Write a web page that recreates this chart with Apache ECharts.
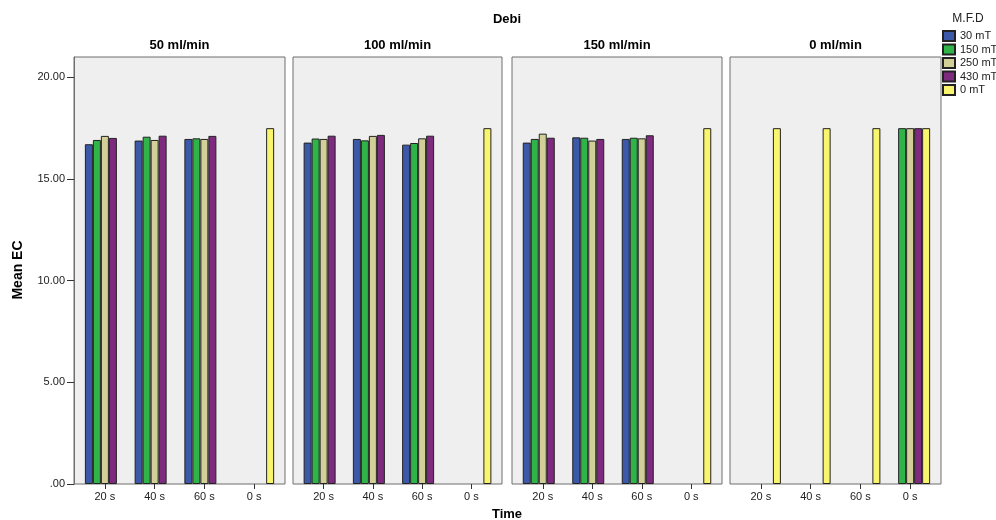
<!DOCTYPE html>
<html>
<head>
<meta charset="utf-8">
<script src="https://cdn.jsdelivr.net/npm/echarts@6/dist/echarts.min.js"></script>
<style>
html,body{margin:0;padding:0;background:#fff;}
#main{width:996px;height:520px;}
</style>
</head>
<body>
<div id="main"></div>
<script>
const categories = ['20 s', '40 s', '60 s', '0 s'];
const flowRates = ['50 ml/min', '100 ml/min', '150 ml/min', '0 ml/min'];
const mfdLevels = ['30 mT', '150 mT', '250 mT', '430 mT', '0 mT'];
const mfdColors = ['#3c58a8', '#30b44a', '#d3cf98', '#7e2a7e', '#f9f56f'];
const yTickValues = [0, 5, 10, 15, 20];

// rows: M.F.D level (30,150,250,430,0 mT); columns: categories (20 s, 40 s, 60 s, 0 s)
const flow50 = [
  [16.71, 16.89, 16.97, null],
  [16.92, 17.08, 17.00, null],
  [17.12, 16.92, 16.97, null],
  [17.02, 17.13, 17.12, null],
  [null, null, null, 17.5]
];
const flow100 = [
  [16.79, 16.97, 16.69, null],
  [16.99, 16.90, 16.77, null],
  [16.97, 17.12, 17.00, null],
  [17.13, 17.17, 17.13, null],
  [null, null, null, 17.5]
];
const flow150 = [
  [16.79, 17.05, 16.97, null],
  [16.97, 17.03, 17.03, null],
  [17.23, 16.89, 17.00, null],
  [17.03, 16.97, 17.15, null],
  [null, null, null, 17.5]
];
const flow0 = [
  [null, null, null, null],
  [null, null, null, 17.5],
  [null, null, null, 17.5],
  [null, null, null, 17.5],
  [17.5, 17.5, 17.5, 17.5]
];
const panelData = [flow50, flow100, flow150, flow0];

const FONT = "'Liberation Sans', Arial, sans-serif";
const boxLeft = [74, 293, 512, 730];
const boxWidth = [211, 209, 210, 211];
const boxTop = 57, boxHeight = 427;

const grid = [], xAxis = [], yAxis = [], series = [];
for (let k = 0; k < 4; k++) {
  grid.push({left: boxLeft[k], top: boxTop, width: boxWidth[k], height: boxHeight,
    show: true, backgroundColor: '#efefef', borderColor: '#6e6e6e', borderWidth: 1});
  grid.push({left: boxLeft[k] + 6, top: boxTop, width: boxWidth[k] - 12, height: boxHeight});
  xAxis.push({type: 'value', gridIndex: 2 * k, show: false, min: 0, max: 1});
  xAxis.push({type: 'category', gridIndex: 2 * k + 1, data: categories,
    axisLine: {show: false},
    axisTick: {show: true, alignWithLabel: true, length: 5, lineStyle: {color: '#333'}},
    axisLabel: {fontSize: 11, color: '#222', margin: 7, fontFamily: FONT},
    splitLine: {show: false}});
  yAxis.push({type: 'value', gridIndex: 2 * k, min: 0, max: 21, interval: 5, show: k === 0,
    axisLine: {show: true, lineStyle: {color: '#6e6e6e'}},
    axisTick: {show: true, length: 7, lineStyle: {color: '#333'}, customValues: yTickValues},
    axisLabel: {fontSize: 11, color: '#222', margin: 9, fontFamily: FONT,
      customValues: yTickValues,
      formatter: v => v === 0 ? '.00' : v.toFixed(2)},
    splitLine: {show: false}});
  yAxis.push({type: 'value', gridIndex: 2 * k + 1, min: 0, max: 21, interval: 5, show: false,
    splitLine: {show: false}});
  for (let m = 0; m < mfdLevels.length; m++) {
    series.push({
      type: 'bar', name: mfdLevels[m], xAxisIndex: 2 * k + 1, yAxisIndex: 2 * k + 1,
      data: panelData[k][m].map(v => v === null ? '-' : v),
      barWidth: 8, barGap: '0%',
      itemStyle: {color: mfdColors[m], borderColor: '#222', borderWidth: 1},
      emphasis: {disabled: true}
    });
  }
}

const graphic = [
  {type: 'text', x: 507, y: 19, style: {text: 'Debi', font: 'bold 13px ' + FONT, fill: '#000',
    align: 'center', verticalAlign: 'middle', textAlign: 'center', textVerticalAlign: 'middle'}},
  {type: 'text', x: 507, y: 514, style: {text: 'Time', font: 'bold 13px ' + FONT, fill: '#000',
    align: 'center', verticalAlign: 'middle', textAlign: 'center', textVerticalAlign: 'middle'}},
  {type: 'text', x: 18, y: 270, rotation: Math.PI / 2, style: {text: 'Mean EC',
    font: "bold 14px 'Liberation Sans Narrow', " + FONT, fill: '#000',
    align: 'center', verticalAlign: 'middle', textAlign: 'center', textVerticalAlign: 'middle'}},
  {type: 'text', x: 968, y: 19, style: {text: 'M.F.D', font: '12px ' + FONT, fill: '#222',
    align: 'center', verticalAlign: 'middle', textAlign: 'center', textVerticalAlign: 'middle'}}
];
for (let k = 0; k < 4; k++) {
  graphic.push({type: 'text', x: boxLeft[k] + boxWidth[k] / 2, y: 45,
    style: {text: flowRates[k], font: 'bold 13px ' + FONT, fill: '#000',
      align: 'center', verticalAlign: 'middle', textAlign: 'center', textVerticalAlign: 'middle'}});
}

const chart = echarts.init(document.getElementById('main'));
chart.setOption({
  animation: false,
  grid, xAxis, yAxis, series, graphic,
  legend: {
    data: mfdLevels, orient: 'vertical', left: 942, top: 30, padding: 0,
    icon: 'rect', itemWidth: 12, itemHeight: 10, itemGap: 1.5,
    textStyle: {fontSize: 11, color: '#222', fontFamily: FONT, lineHeight: 10},
    selectedMode: false
  }
});
</script>
</body>
</html>
